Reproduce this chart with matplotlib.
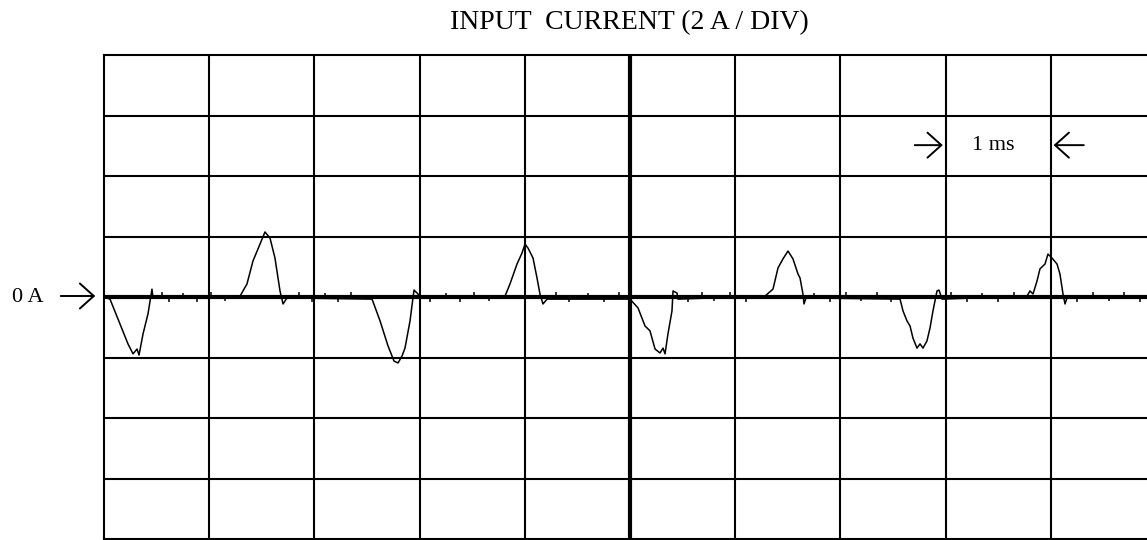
import numpy as np
import matplotlib
matplotlib.use("Agg")
import matplotlib.pyplot as plt

# scope trace, time in ms (1 ms / div), current in A (2 A / div)
t_ms = [0.000, 0.057, 0.228, 0.276, 0.314, 0.333, 0.371, 0.418, 0.456, 0.466,
        1.293, 1.359, 1.416, 1.483, 1.530, 1.578, 1.625, 1.673, 1.702, 1.740,
        2.548, 2.624, 2.700, 2.757, 2.795, 2.833, 2.861, 2.909, 2.937, 2.947, 2.985, 3.004,
        3.812, 3.859, 3.926, 3.973, 4.002, 4.030, 4.078, 4.116, 4.144, 4.173, 4.211,
        5.000, 5.076, 5.143, 5.190, 5.238, 5.285, 5.314, 5.333, 5.361, 5.399, 5.409, 5.447, 5.456,
        6.283, 6.359, 6.407, 6.454, 6.502, 6.549, 6.597, 6.616, 6.644, 6.654, 6.673,
        7.567, 7.595, 7.633, 7.662, 7.690, 7.728, 7.757, 7.785, 7.823, 7.852, 7.880, 7.918, 7.937, 7.966,
        8.774, 8.802, 8.831, 8.869, 8.897, 8.945, 8.973, 9.011, 9.059, 9.087, 9.116, 9.135, 9.154,
        9.914]
i_amp = [0.00, -0.07, -1.55, -1.88, -1.72, -1.92, -1.22, -0.56, 0.26, -0.03,
         0.03, 0.43, 1.19, 1.75, 2.15, 1.95, 1.29, 0.20, -0.23, -0.03,
         -0.07, -0.79, -1.62, -2.12, -2.18, -1.95, -1.69, -0.79, -0.03, 0.23, 0.10, -0.03,
         0.03, 0.43, 1.09, 1.45, 1.75, 1.62, 1.29, 0.63, 0.10, -0.23, -0.07,
         -0.07, -0.36, -0.96, -1.12, -1.72, -1.85, -1.69, -1.88, -1.22, -0.46, 0.20, 0.13, -0.07,
         0.03, 0.26, 0.96, 1.26, 1.52, 1.26, 0.76, 0.63, 0.10, -0.23, -0.03,
         -0.07, -0.46, -0.79, -0.96, -1.36, -1.69, -1.55, -1.69, -1.45, -1.02, -0.46, 0.20, 0.23, -0.07,
         0.03, 0.20, 0.10, 0.53, 0.93, 1.09, 1.42, 1.29, 1.09, 0.76, 0.10, -0.23, -0.03,
         0.00]

# little glitches sitting on the zero line
glitch_t = [0.55, 0.62, 0.75, 0.88, 1.02, 1.15, 1.85, 1.98, 2.10, 2.22, 2.35,
            3.10, 3.25, 3.38, 3.52, 3.66, 4.30, 4.42, 4.60, 4.75, 4.90,
            5.55, 5.68, 5.80, 5.95, 6.10, 6.75, 6.90, 7.05, 7.20, 7.35, 7.48,
            8.05, 8.20, 8.35, 8.50, 8.65, 9.25, 9.40, 9.55, 9.70, 9.85]
glitch_a = [0.15, -0.18, 0.12, -0.15, 0.15, -0.12, 0.15, -0.18, 0.12, -0.15, 0.15,
            -0.15, 0.12, -0.18, 0.15, -0.12, 0.15, -0.15, 0.12, -0.18, 0.15,
            -0.15, 0.18, -0.12, 0.15, -0.15, 0.12, -0.18, 0.15, -0.12, 0.15, -0.15,
            0.15, -0.18, 0.12, -0.15, 0.15, -0.15, 0.18, -0.12, 0.15, -0.15]

fig = plt.figure(figsize=(11.47, 5.40), dpi=100)
W, H = 1147.0, 540.0
ax = fig.add_axes([104 / W, 1 / H, 1052 / W, 484 / H])
ax.set_xlim(0, 10)
ax.set_ylim(-8, 8)
ax.set_xticks([])
ax.set_yticks([])
for s in ax.spines.values():
    s.set_linewidth(1.5)

# graticule
for k in range(1, 10):
    ax.axvline(k, color='black', lw=3.0 if k == 5 else 1.5)
for k in range(-6, 8, 2):
    ax.axhline(k, color='black', lw=3.0 if k == 0 else 1.5)

ax.plot(t_ms, i_amp, color='black', lw=1.1)
ax.vlines(glitch_t, 0, glitch_a, color='black', lw=1.1)

serif = ['Liberation Serif', 'DejaVu Serif']
arr = dict(arrowstyle='->, head_length=1.0, head_width=0.9', lw=1.4, color='black')

fig.text(629 / W, 1 - 23 / H, 'INPUT  CURRENT (2 A / DIV)', ha='center', va='center',
         family=serif, fontsize=20)

# 0 A marker
fig.text(12 / W, 1 - 297 / H, '0 A', ha='left', va='center', family=serif, fontsize=16)
ax.annotate('', xy=(98, H - 296), xytext=(58, H - 296), xycoords='figure pixels',
            textcoords='figure pixels', arrowprops=arr)

# 1 ms marker
ax.text(8.455, 5.02, '1 ms', ha='center', va='center', family=serif, fontsize=16)
ax.annotate('', xy=(8, 5.02), xytext=(7.68, 5.02), arrowprops=arr)
ax.annotate('', xy=(9, 5.02), xytext=(9.34, 5.02), arrowprops=arr)

fig.savefig('out.png', dpi=100)
